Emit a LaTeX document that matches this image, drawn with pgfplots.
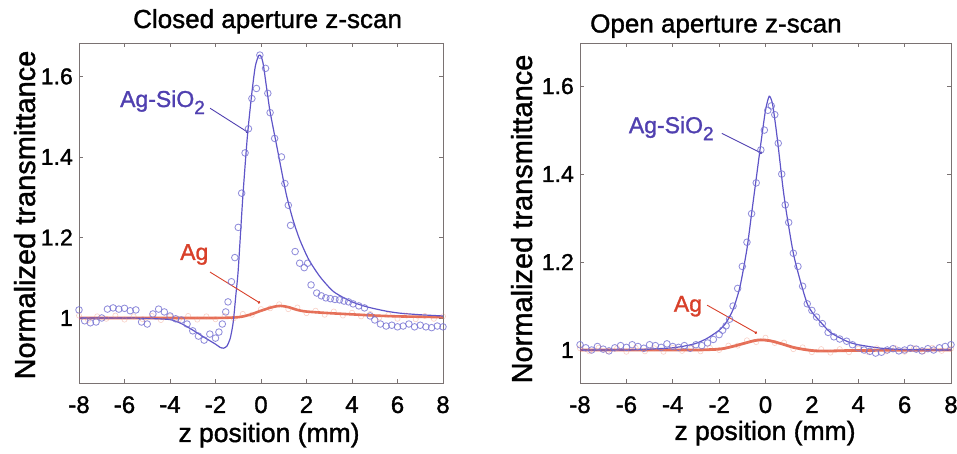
\documentclass[border=0pt]{standalone}
\usepackage{pgfplots}
\pgfplotsset{compat=1.18}
\usepackage{fontspec}
\setmainfont{Liberation Sans}[BoldFont={Liberation Sans}, BoldFeatures={FakeBold=1.3}]
\usetikzlibrary{arrows.meta}
\definecolor{fitblue}{HTML}{5F55C8}
\definecolor{ptblue}{HTML}{7672D2}
\definecolor{fitred}{HTML}{E0553A}
\definecolor{ptred}{HTML}{EE8A70}
\definecolor{txtblue}{HTML}{5040B0}
\definecolor{txtred}{HTML}{D8402A}
\definecolor{axgray}{HTML}{7A7272}

\pgfplotstableread{
x y
-8.0 1.020
-7.75 0.993
-7.5 0.988
-7.25 0.990
-7.0 1.000
-6.75 1.022
-6.5 1.025
-6.25 1.022
-6.0 1.024
-5.75 1.018
-5.5 1.020
-5.25 0.990
-5.0 0.985
-4.75 1.010
-4.5 1.022
-4.25 1.015
-4.0 1.005
-3.75 0.998
-3.5 0.995
-3.25 0.985
-3.0 0.968
-2.75 0.955
-2.5 0.945
-2.25 0.960
-2.0 0.950
-1.85 0.965
-1.7 0.985
-1.55 1.015
-1.45 1.040
-1.3 1.090
-1.15 1.150
-1.0 1.225
-0.85 1.310
-0.7 1.410
-0.55 1.470
-0.4 1.545
-0.2 1.570
-0.05 1.653
0.2 1.620
0.3 1.558
0.4 1.510
0.6 1.446
0.9 1.400
1.05 1.334
1.2 1.280
1.3 1.230
1.5 1.165
1.7 1.136
1.9 1.125
2.05 1.136
2.2 1.082
2.45 1.062
2.65 1.055
2.85 1.050
3.05 1.048
3.25 1.046
3.45 1.045
3.65 1.042
3.85 1.040
4.05 1.035
4.3 1.030
4.55 1.025
4.8 1.005
5.0 0.995
5.25 0.985
5.5 0.980
5.75 0.982
6.0 0.978
6.25 0.980
6.5 0.985
6.75 0.978
7.0 0.982
7.25 0.978
7.5 0.976
7.75 0.980
8.0 0.978
}\closedblue

\pgfplotstableread{
x y
-8 1.000
-6 1.000
-5 0.999
-4 0.996
-3.5 0.986
-3 0.970
-2.5 0.952
-2 0.935
-1.8 0.927
-1.65 0.925
-1.5 0.930
-1.35 0.950
-1.22 0.990
-1.1 1.060
-1.0 1.120
-0.8 1.300
-0.6 1.450
-0.4 1.560
-0.25 1.625
-0.1 1.652
0.0 1.650
0.1 1.630
0.25 1.570
0.4 1.512
0.7 1.425
1.1 1.310
1.4 1.245
1.7 1.195
2.1 1.145
2.6 1.102
3.2 1.065
4.0 1.040
4.7 1.027
5.5 1.017
6.1 1.012
7.0 1.008
8.0 1.005
}\closedbluefit

\pgfplotstableread{
x y
-8 1.000
-6 1.000
-4 1.000
-2 1.000
-1 1.002
-0.5 1.008
0 1.018
0.5 1.027
0.85 1.030
1.2 1.027
1.6 1.020
2.0 1.016
3.0 1.012
4.0 1.009
5.0 1.006
6.0 1.004
7.0 1.003
8.0 1.002
}\closedredfit

\pgfplotstableread{
x y
-8.0 1.006
-7.6 0.995
-7.2 1.004
-6.8 0.998
-6.4 1.006
-6.0 0.996
-5.6 1.004
-5.2 0.997
-4.8 1.005
-4.4 0.995
-4.0 1.004
-3.6 0.997
-3.2 1.005
-2.8 0.996
-2.4 1.004
-2.0 0.997
-1.6 1.005
-1.2 0.999
-0.8 1.010
-0.4 1.008
0.0 1.022
0.4 1.024
0.8 1.034
1.2 1.022
1.6 1.026
2.0 1.012
2.4 1.018
2.8 1.008
3.2 1.016
3.6 1.006
4.0 1.013
4.4 1.004
4.8 1.010
5.2 1.001
5.6 1.008
6.0 0.998
6.4 1.006
6.8 0.997
7.2 1.005
7.6 0.998
8.0 1.004
}\closedred

\pgfplotstableread{
x y
-8.0 1.012
-7.75 1.005
-7.5 1.000
-7.25 1.008
-7.0 1.002
-6.75 0.998
-6.5 1.005
-6.25 1.010
-6.0 1.006
-5.75 1.012
-5.5 1.008
-5.25 1.004
-5.0 1.012
-4.75 1.010
-4.5 1.006
-4.25 1.014
-4.0 1.008
-3.75 1.006
-3.5 1.010
-3.25 1.004
-3.0 1.012
-2.75 1.010
-2.5 1.016
-2.25 1.024
-2.0 1.035
-1.85 1.045
-1.7 1.055
-1.55 1.070
-1.4 1.100
-1.2 1.140
-1.0 1.190
-0.8 1.245
-0.6 1.310
-0.4 1.380
-0.2 1.455
-0.05 1.500
0.1 1.545
0.25 1.555
0.4 1.535
0.55 1.470
0.7 1.400
0.85 1.330
1.0 1.290
1.2 1.220
1.4 1.190
1.6 1.145
1.8 1.105
2.0 1.090
2.2 1.075
2.45 1.060
2.7 1.040
2.95 1.030
3.2 1.025
3.5 1.020
3.75 1.012
4.0 1.005
4.25 1.000
4.5 0.997
4.75 0.993
5.0 0.995
5.25 1.000
5.5 1.003
5.75 0.998
6.0 1.000
6.25 1.004
6.5 1.002
6.75 0.998
7.0 1.003
7.25 1.000
7.5 1.005
7.75 1.008
8.0 1.012
}\openblue

\pgfplotstableread{
x y
-8 1.000
-6 1.000
-5 1.002
-4 1.005
-3.5 1.009
-3 1.015
-2.5 1.027
-2 1.045
-1.7 1.062
-1.4 1.092
-1.1 1.144
-0.8 1.230
-0.6 1.310
-0.4 1.390
-0.2 1.470
0.0 1.545
0.16 1.577
0.3 1.560
0.45 1.505
0.55 1.462
0.75 1.370
0.91 1.310
1.2 1.220
1.49 1.159
1.8 1.105
2.05 1.083
2.35 1.065
2.8 1.040
3.5 1.020
4.0 1.012
5.0 1.004
6.0 1.001
8.0 1.000
}\openbluefit

\pgfplotstableread{
x y
-8 1.000
-4 1.000
-3 1.000
-2 1.002
-1.5 1.007
-1 1.014
-0.5 1.021
-0.2 1.023
0.2 1.021
0.7 1.014
1.2 1.006
1.7 1.001
2.2 0.998
3.0 0.998
4.0 0.999
8.0 1.000
}\openredfit

\pgfplotstableread{
x y
-8.0 1.004
-7.6 0.997
-7.2 1.005
-6.8 0.998
-6.4 1.004
-6.0 0.996
-5.6 1.005
-5.2 0.997
-4.8 1.004
-4.4 0.996
-4.0 1.005
-3.6 0.998
-3.2 1.004
-2.8 0.997
-2.4 1.005
-2.0 1.000
-1.6 1.010
-1.2 1.010
-0.8 1.022
-0.4 1.018
0.0 1.028
0.4 1.016
0.8 1.017
1.2 1.002
1.6 1.006
2.0 0.995
2.4 1.002
2.8 0.994
3.2 1.002
3.6 0.995
4.0 1.003
4.4 0.996
4.8 1.004
5.2 0.997
5.6 1.004
6.0 0.996
6.4 1.004
6.8 0.997
7.2 1.005
7.6 0.998
8.0 1.003
}\openred

\pgfplotsset{
  zs/.style={
    scale only axis,
    height=340pt,
    xmin=-8, xmax=8,
    xtick={-8,-6,-4,-2,0,2,4,6,8},
    ytick={1,1.2,1.4,1.6},
    yticklabels={1,1.2,1.4,1.6},
    axis line style={axgray, line width=0.9pt},
    tick style={axgray, line width=0.7pt},
    tick align=inside,
    major tick length=4pt,
    /pgf/number format/assume math mode=true,
    xticklabel style={font=\bfseries\fontsize{24}{24}\selectfont, inner sep=0pt, anchor=north, yshift=-13pt},
    yticklabel style={font=\bfseries\fontsize{23}{23}\selectfont, inner sep=0pt, anchor=east, xshift=-6pt},
    clip=true,
  },
  ptsb/.style={only marks, mark=o, mark size=3.3pt, mark options={draw=ptblue, line width=0.85pt, draw opacity=0.8}},
  ptsr/.style={only marks, mark=o, mark size=2.6pt, mark options={draw=ptred, line width=0.6pt, draw opacity=0.4}},
}

\newcommand{\agsio}{Ag-SiO\raisebox{-7pt}{\fontsize{19}{19}\selectfont 2}}

\begin{document}
\begin{tikzpicture}[x=1pt,y=1pt]
\useasboundingbox (0,0) rectangle (957,454);

% ---------- left panel ----------
\begin{axis}[zs, at={(79pt,71pt)}, anchor=south west, width=364pt,
  ymin=0.8385, ymax=1.683]
\addplot[ptsb] table {\closedblue};
\addplot[ptsr] table {\closedred};
\addplot[fitred, line width=2.6pt, opacity=0.85, smooth] table {\closedredfit};
\addplot[fitblue, line width=1.2pt, smooth, tension=0.4] table {\closedbluefit};
\draw[txtblue, line width=0.9pt, -{Circle[length=2.6pt]}] (axis cs:-2.24,1.521) -- (axis cs:-0.57,1.461);
\draw[txtred, line width=0.9pt, -{Circle[length=2.6pt]}] (axis cs:-2.24,1.114) -- (axis cs:-0.04,1.037);
\node[anchor=base west, inner sep=0pt, text=txtblue, font=\bfseries\fontsize{23}{23}\selectfont] at (axis cs:-6.2,1.524) {\agsio};
\node[anchor=base west, inner sep=0pt, text=txtred, font=\bfseries\fontsize{23}{23}\selectfont] at (axis cs:-3.56,1.144) {Ag};
\end{axis}

% ---------- right panel ----------
\begin{axis}[zs, at={(580pt,71pt)}, anchor=south west, width=371pt,
  ymin=0.925, ymax=1.698]
\addplot[ptsb] table {\openblue};
\addplot[ptsr] table {\openred};
\addplot[fitred, line width=2.8pt, opacity=0.85, smooth] table {\openredfit};
\addplot[fitblue, line width=1.2pt, smooth, tension=0.4] table {\openbluefit};
\draw[txtblue, line width=0.9pt, -{Circle[length=2.6pt]}] (axis cs:-1.88,1.4925) -- (axis cs:-0.15,1.447);
\draw[txtred, line width=0.9pt, -{Circle[length=2.6pt]}] (axis cs:-2.52,1.102) -- (axis cs:-0.37,1.038);
\node[anchor=base west, inner sep=0pt, text=txtblue, font=\bfseries\fontsize{23}{23}\selectfont] at (axis cs:-5.9,1.493) {\agsio};
\node[anchor=base west, inner sep=0pt, text=txtred, font=\bfseries\fontsize{23}{23}\selectfont] at (axis cs:-3.96,1.087) {Ag};
\end{axis}

% ---------- titles and labels ----------
\node[anchor=base west, inner sep=0pt, font=\bfseries\fontsize{26}{26}\selectfont] at (133,426) {Closed aperture z-scan};
\node[anchor=base west, inner sep=0pt, font=\bfseries\fontsize{26}{26}\selectfont] at (590,421.5) {Open aperture z-scan};
\node[anchor=base, inner sep=0pt, font=\bfseries\fontsize{26.5}{26.5}\selectfont] at (269,12) {z position (mm)};
\node[anchor=base, inner sep=0pt, font=\bfseries\fontsize{26.5}{26.5}\selectfont] at (765,14) {z position (mm)};
\node[anchor=base, rotate=90, inner sep=0pt, font=\bfseries\fontsize{29}{29}\selectfont] at (35,239) {Normalized transmittance};
\node[anchor=base, rotate=90, inner sep=0pt, font=\bfseries\fontsize{29}{29}\selectfont] at (532,235) {Normalized transmittance};
\end{tikzpicture}
\end{document}
